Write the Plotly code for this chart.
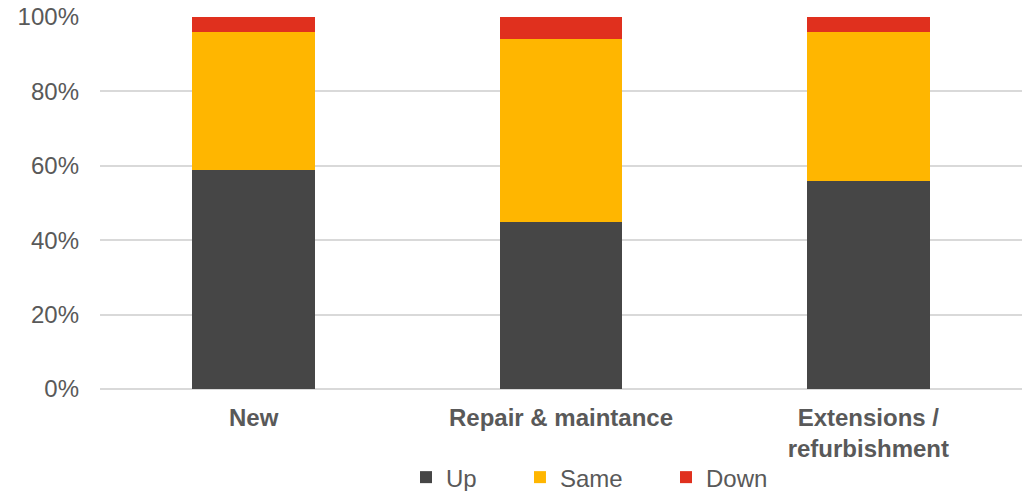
import plotly.graph_objects as go

# Share of responses by work type (percent)
categories = ["New", "Repair & maintance", "Extensions /<br>refurbishment"]
up = [59, 45, 56]
same = [37, 49, 40]
down = [4, 6, 4]

series = [
    ("Up", up, "#464646", "legend"),
    ("Same", same, "#FFB600", "legend2"),
    ("Down", down, "#E0301E", "legend3"),
]

FONT = "Liberation Sans, Arial, sans-serif"
TEXT = "#595959"
SIZE = 24

fig = go.Figure()
for name, vals, color, leg in series:
    fig.add_trace(go.Bar(
        name=name,
        x=categories,
        y=vals,
        marker=dict(color=color, line=dict(width=0)),
        width=0.4,
        legend=leg,
        showlegend=True,
    ))

# one legend box per series so the entries sit at their own positions
legend_x = {"legend": 0.3319, "legend2": 0.4555, "legend3": 0.6139}
legends = {
    key: dict(
        orientation="h",
        x=xpos, xanchor="left",
        y=-0.238, yanchor="middle",
        font=dict(family=FONT, size=SIZE, color=TEXT),
        itemwidth=30,
        bgcolor="rgba(0,0,0,0)",
    )
    for key, xpos in legend_x.items()
}

fig.update_layout(
    barmode="stack",
    width=1027,
    height=491,
    showlegend=True,
    margin=dict(l=100, r=5, t=17, b=101.5, autoexpand=False),
    paper_bgcolor="white",
    plot_bgcolor="white",
    font=dict(family=FONT, size=SIZE, color=TEXT),
    **legends,
    xaxis=dict(
        showgrid=False,
        showline=False,
        ticks="",
        automargin=False,
        tickfont=dict(family=FONT, size=SIZE, color=TEXT, weight="bold"),
        ticklabelstandoff=12,
    ),
    yaxis=dict(
        range=[0, 100],
        tickvals=[0, 20, 40, 60, 80, 100],
        ticktext=["0%", "20%", "40%", "60%", "80%", "100%"],
        showgrid=True,
        gridcolor="#D9D9D9",
        gridwidth=1.5,
        zeroline=True,
        zerolinecolor="#D9D9D9",
        zerolinewidth=1.5,
        showline=False,
        ticks="",
        automargin=False,
        tickfont=dict(family=FONT, size=SIZE, color=TEXT),
        ticklabelstandoff=20,
    ),
)

fig.write_html("out.html")
